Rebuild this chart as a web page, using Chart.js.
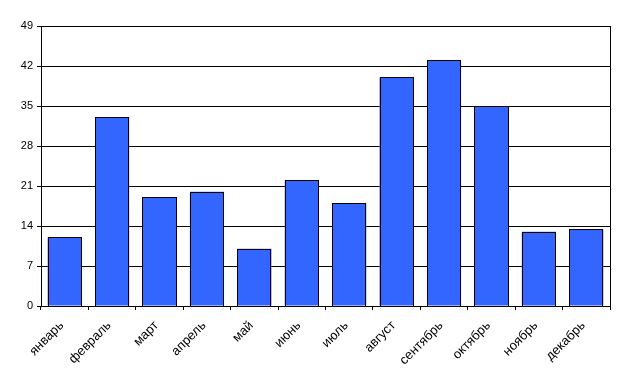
<!DOCTYPE html>
<html>
<head>
<meta charset="utf-8">
<script src="https://cdn.jsdelivr.net/npm/chart.js@4/dist/chart.umd.min.js"></script>
<style>
html,body{margin:0;padding:0;background:#fff;}
#wrap{width:625px;height:386px;position:relative;}
</style>
</head>
<body>
<div id="wrap"><canvas id="c" width="625" height="386"></canvas></div>
<script>
const categories = ["январь","февраль","март","апрель","май","июнь","июль","август","сентябрь","октябрь","ноябрь","декабрь"];
const values = [12, 33, 19, 20, 10, 22, 18, 40, 43, 35, 13, 13.4];
const yTicks = [0, 7, 14, 21, 28, 35, 42, 49];

const crispOutlines = {
  id: 'crispOutlines',
  afterDatasetsDraw(chart) {
    const {ctx, chartArea} = chart;
    ctx.save();
    ctx.strokeStyle = '#000';
    ctx.lineWidth = 1;
    chart.getDatasetMeta(0).data.forEach(bar => {
      const l = Math.round(bar.x - bar.width / 2) + 0.5;
      const r = Math.round(bar.x + bar.width / 2) - 0.5;
      const t = Math.round(bar.y) + 0.5;
      const b = Math.round(bar.base) + 0.5;
      ctx.strokeRect(l, t, r - l, b - t);
    });
    ctx.beginPath();
    ctx.moveTo(Math.round(chartArea.right) + 0.5, chartArea.top);
    ctx.lineTo(Math.round(chartArea.right) + 0.5, chartArea.bottom);
    ctx.stroke();
    ctx.restore();
  }
};

new Chart(document.getElementById('c'), {
  type: 'bar',
  data: {
    labels: categories,
    datasets: [{
      data: values,
      backgroundColor: '#3366FF',
      borderWidth: 0,
      categoryPercentage: 1,
      barPercentage: 0.72
    }]
  },
  options: {
    responsive: false,
    animation: false,
    devicePixelRatio: 1,
    layout: {padding: {top: 26, right: 15, left: 0, bottom: 0}},
    plugins: {legend: {display: false}, tooltip: {enabled: false}},
    scales: {
      x: {
        offset: true,
        grid: {display: true, drawOnChartArea: false, offset: true, color: '#000', tickLength: 4},
        border: {color: '#000'},
        ticks: {
          color: '#000',
          font: {family: 'Liberation Sans, Arial', size: 13},
          minRotation: 45, maxRotation: 45,
          labelOffset: -3,
          padding: 8
        },
        afterFit(scale) { scale.height = 80; }
      },
      y: {
        min: 0, max: 49,
        afterBuildTicks(scale) { scale.ticks = yTicks.map(v => ({value: v})); },
        grid: {color: '#000', tickLength: 4},
        border: {color: '#000'},
        ticks: {
          color: '#000',
          font: {family: 'Liberation Sans, Arial', size: 11},
          padding: 4
        },
        afterFit(scale) { scale.width = 41; }
      }
    }
  },
  plugins: [crispOutlines]
});
</script>
</body>
</html>
